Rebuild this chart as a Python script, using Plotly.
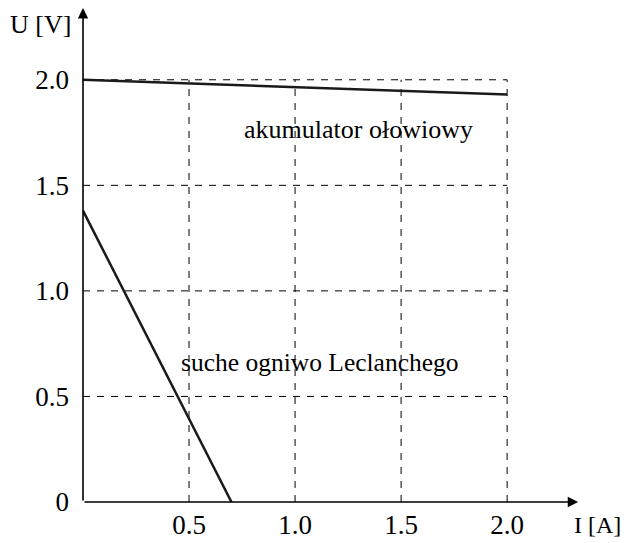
import plotly.graph_objects as go

# Data
current_lead = [0.0, 2.0]
voltage_lead = [2.0, 1.93]
current_lecl = [0.0, 0.70]
voltage_lecl = [1.38, 0.0]
x_ticks = [0.5, 1.0, 1.5, 2.0]
x_tick_labels = ["0.5", "1.0", "1.5", "2.0"]
y_ticks = [0, 0.5, 1.0, 1.5, 2.0]
y_tick_labels = ["0", "0.5", "1.0", "1.5", "2.0"]
label_lead = "akumulator ołowiowy"
label_lecl = "suche ogniwo Leclanchego"
x_title = "I [A]"
y_title = "U [V]"

XMAX, YMAX = 2.32, 2.34
FONT = "Liberation Serif"

fig = go.Figure()

# dashed grid limited to the 2x2 box
for xv in x_ticks:
    fig.add_trace(go.Scatter(x=[xv, xv], y=[0, max(y_ticks)], mode="lines",
                             line=dict(color="black", width=1, dash="7px,7px"),
                             hoverinfo="skip", showlegend=False))
for yv in y_ticks[1:]:
    fig.add_trace(go.Scatter(x=[0, max(x_ticks)], y=[yv, yv], mode="lines",
                             line=dict(color="black", width=1, dash="7px,7px"),
                             hoverinfo="skip", showlegend=False))

fig.add_trace(go.Scatter(x=current_lead, y=voltage_lead, mode="lines",
                         line=dict(color="#1a1a1a", width=2.5), showlegend=False))
fig.add_trace(go.Scatter(x=current_lecl, y=voltage_lecl, mode="lines",
                         line=dict(color="#1a1a1a", width=2.5), showlegend=False))

# axis arrows
fig.add_annotation(x=XMAX + 0.015, y=0, ax=0, ay=0, xref="x", yref="y", axref="x", ayref="y",
                   showarrow=True, arrowhead=2, arrowsize=1.3, arrowwidth=1.6,
                   arrowcolor="black", text="")
fig.add_annotation(x=0, y=YMAX, ax=0, ay=0, xref="x", yref="y", axref="x", ayref="y",
                   showarrow=True, arrowhead=2, arrowsize=1.3, arrowwidth=1.6,
                   arrowcolor="black", text="")

# axis titles
fig.add_annotation(x=1.0, y=-0.047, xref="paper", yref="paper", text=x_title, showarrow=False,
                   xanchor="left", yanchor="middle", xshift=-3,
                   font=dict(family=FONT, size=24, color="black"))
fig.add_annotation(x=0, y=0.966, xref="paper", yref="paper", text=y_title, showarrow=False,
                   xanchor="right", yanchor="middle", xshift=-10,
                   font=dict(family=FONT, size=26, color="black"))

# curve labels
fig.add_annotation(x=0.75, y=1.763, xref="x", yref="y", text=label_lead, showarrow=False,
                   xanchor="left", yanchor="middle", font=dict(family=FONT, size=26, color="black"))
fig.add_annotation(x=0.453, y=0.659, xref="x", yref="y", text=label_lecl, showarrow=False,
                   xanchor="left", yanchor="middle", font=dict(family=FONT, size=25.5, color="black"))

fig.update_xaxes(range=[0, XMAX], tickvals=x_ticks, ticktext=x_tick_labels, showgrid=False,
                 zeroline=False, showline=False, ticks="", ticklabelstandoff=4,
                 tickfont=dict(family=FONT, size=27, color="black"), fixedrange=True)
fig.update_yaxes(range=[0, YMAX], tickvals=y_ticks, ticktext=y_tick_labels, showgrid=False,
                 zeroline=False, showline=False, ticks="", ticklabelstandoff=13,
                 tickfont=dict(family=FONT, size=27, color="black"), fixedrange=True)

fig.update_layout(width=624, height=535, margin=dict(l=75, r=57, t=0, b=41, autoexpand=False),
                  plot_bgcolor="white", paper_bgcolor="white", showlegend=False)

fig.write_html("out.html")
